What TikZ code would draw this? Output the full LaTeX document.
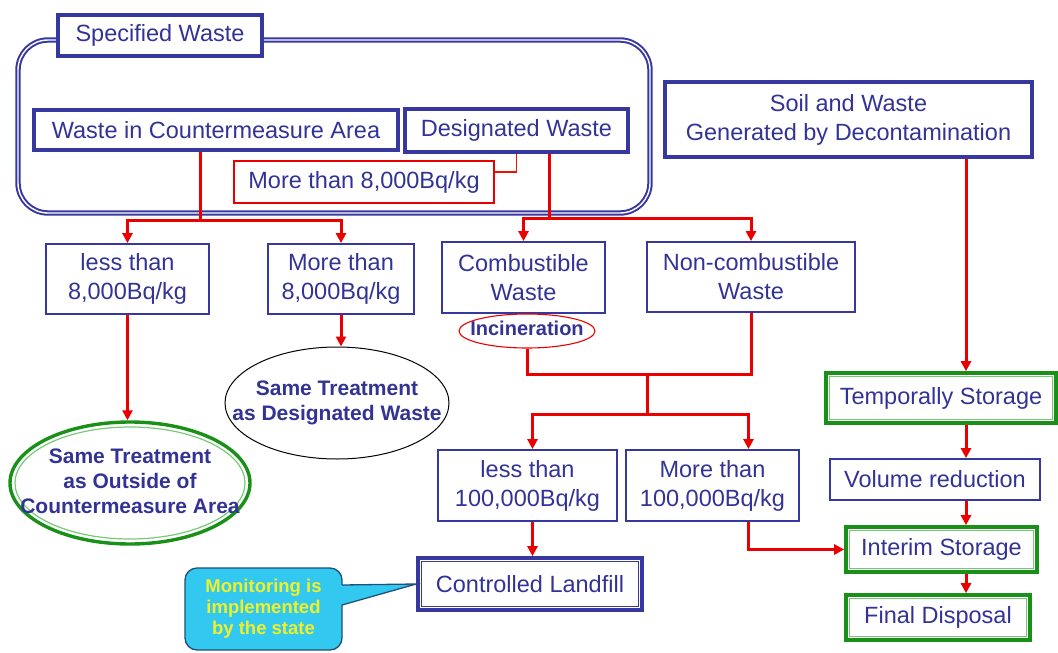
\documentclass[tikz,border=0pt]{standalone}
\usepackage{fontspec}
\setmainfont{Liberation Sans}
\usetikzlibrary{shapes.geometric,arrows.meta,calc}
\definecolor{navy}{RGB}{51,51,150}
\definecolor{boxblue}{RGB}{55,55,160}
\definecolor{rred}{RGB}{235,0,0}
\definecolor{ggreen}{RGB}{25,145,25}
\definecolor{lgreen}{RGB}{120,200,120}
\definecolor{ccyan}{RGB}{50,200,240}
\definecolor{cborder}{RGB}{30,80,120}
\definecolor{yyellow}{RGB}{240,240,40}
\newcommand\ztext[1]{\makebox[0pt]{\begin{tabular}{@{}c@{}}#1\end{tabular}}}
\begin{document}
\begin{tikzpicture}[x=1pt,y=-1pt,
  box/.style={draw=boxblue, line width=1.8pt, fill=white, text=navy,
    font=\fontsize{23.5}{29}\selectfont, align=center, inner sep=0pt},
  bigbox/.style={box, line width=3.4pt},
  redbox/.style={box, draw=rred, line width=1.8pt},
  dblbox/.style={box, line width=3.6pt},
  greenbox/.style={box, draw=ggreen, line width=3.6pt},
  ell/.style={ellipse, fill=white, text=navy, inner sep=0pt,
    font=\bfseries\fontsize{21}{25}\selectfont},
  rline/.style={draw=rred, line width=3pt},
  rthin/.style={draw=rred!85!orange, line width=1.8pt},
  rarrow/.style={rline, -{Triangle[length=10pt,width=10pt]}},
  innerg/.style={draw=lgreen, line width=1.2pt},
  innerb/.style={draw=boxblue, line width=1.2pt}
]
\useasboundingbox (0,0) rectangle (1058,653);

\draw[draw=boxblue, line width=2pt, double=white, double distance=1.4pt, rounded corners=30pt]
  (18,40) rectangle (650,213);

\node[bigbox, minimum width=204, minimum height=41] (spec) at (160,35.5) {Specified Waste};
\node[bigbox, minimum width=364, minimum height=40] (wca) at (216,130) {Waste in Countermeasure Area};
\node[bigbox, minimum width=223, minimum height=43] (desig) at (516.5,130.5) {Designated Waste};
\node[redbox, minimum width=260, minimum height=42] (m8r) at (364,182) {More than 8,000Bq/kg};
\node[bigbox, minimum width=367, minimum height=75] (soil) at (848.5,119.5) {Soil and Waste\\Generated by Decontamination};

\node[box, minimum width=163, minimum height=70] (l8) at (127.5,279) {less than\\8,000Bq/kg};
\node[box, minimum width=146, minimum height=70] (m8) at (341,279) {More than\\8,000Bq/kg};
\node[box, minimum width=163, minimum height=71] (comb) at (523.5,277.5) {Combustible\\Waste};
\node[box, minimum width=208, minimum height=70] (noncomb) at (751,277) {Non-combustible\\Waste};

\node[ell, draw=rred, line width=1.1pt, minimum width=136, minimum height=34,
  font=\bfseries\fontsize{20}{24}\selectfont] (inc) at (527,331) {\ztext{Incineration}};

\node[ell, draw=black, line width=1pt, minimum width=224, minimum height=112] (sameD) at (337,403)
  {\ztext{Same Treatment\\as Designated Waste}};
\draw[innerg] (130,483) ellipse (115pt and 56pt);
\node[ell, fill=none, draw=ggreen, line width=3.4pt, minimum width=240, minimum height=122] (sameO) at (130,483)
  {\ztext{Same Treatment\\as Outside of\\Countermeasure Area}};

\node[box, minimum width=179, minimum height=71] (l100) at (527.5,485.5) {less than\\100,000Bq/kg};
\node[box, minimum width=173, minimum height=71] (m100) at (712.5,485.5) {More than\\100,000Bq/kg};
\node[dblbox, minimum width=224, minimum height=52] (landfill) at (530,584) {Controlled Landfill};
\draw[innerb] ([shift={(5pt,-5pt)}]landfill.north west) rectangle ([shift={(-5pt,5pt)}]landfill.south east);

\node[greenbox, minimum width=230, minimum height=50] (temp) at (941,398) {Temporally Storage};
\node[box, minimum width=210, minimum height=41] (vol) at (935,479.5) {Volume reduction};
\node[greenbox, minimum width=191, minimum height=45] (interim) at (941.5,549.5) {Interim Storage};
\node[greenbox, minimum width=184, minimum height=45] (final) at (938,617.5) {Final Disposal};
\foreach \n in {temp,interim,final}
  \draw[innerg] ([shift={(5pt,-5pt)}]\n.north west) rectangle ([shift={(-5pt,5pt)}]\n.south east);

\node[draw=cborder, fill=ccyan, line width=1.3pt, rounded corners=12pt, inner sep=0pt,
  minimum width=157, minimum height=82, text=yyellow, align=center,
  font=\bfseries\fontsize{18.5}{21}\selectfont] (callout) at (263.5,609)
  {Monitoring is\\implemented\\by the state};
\fill[ccyan] (340,585) -- (landfill.west) -- (340,605) -- cycle;
\draw[cborder, line width=1.3pt] (342,585) -- (landfill.west) -- (342,605);

% connectors
\coordinate (jL) at (200,220);
\draw[rline] (wca.south -| jL) -- (jL);
\draw[rarrow] (jL) -| (l8.north);
\draw[rarrow] (jL) -| (m8.north);
\coordinate (jR) at (549,218);
\draw[rline] (desig.south -| jR) -- (jR);
\draw[rarrow] (jR) -| (comb.north);
\draw[rarrow] (jR) -| (noncomb.north);
\draw[rthin] ([yshift=10pt]m8r.east) -| (desig.south);
\draw[rarrow] (l8.south) -- (l8.south |- sameO.north);
\draw[rarrow] (m8.south) -- (m8.south |- sameD.north);
\coordinate (jM) at (647,374);
\draw[rline] (inc.south) |- (jM) -| (noncomb.south);
\coordinate (jM2) at (647,414);
\draw[rline] (jM) -- (jM2);
\draw[rarrow] (jM2) -| ([xshift=5pt]l100.north);
\draw[rarrow] (jM2) -| ([xshift=36pt]m100.north);
\draw[rarrow] ([xshift=5pt]l100.south) -- ([xshift=5pt]l100.south |- landfill.north);
\draw[rarrow] ([xshift=36pt]m100.south) |- (interim.west);
\coordinate (cx) at (966,0);
\draw[rarrow] (soil.south -| cx) -- (temp.north -| cx);
\draw[rarrow] (temp.south -| cx) -- (vol.north -| cx);
\draw[rarrow] (vol.south -| cx) -- (interim.north -| cx);
\draw[rarrow] (interim.south -| cx) -- (final.north -| cx);
\end{tikzpicture}
\end{document}
